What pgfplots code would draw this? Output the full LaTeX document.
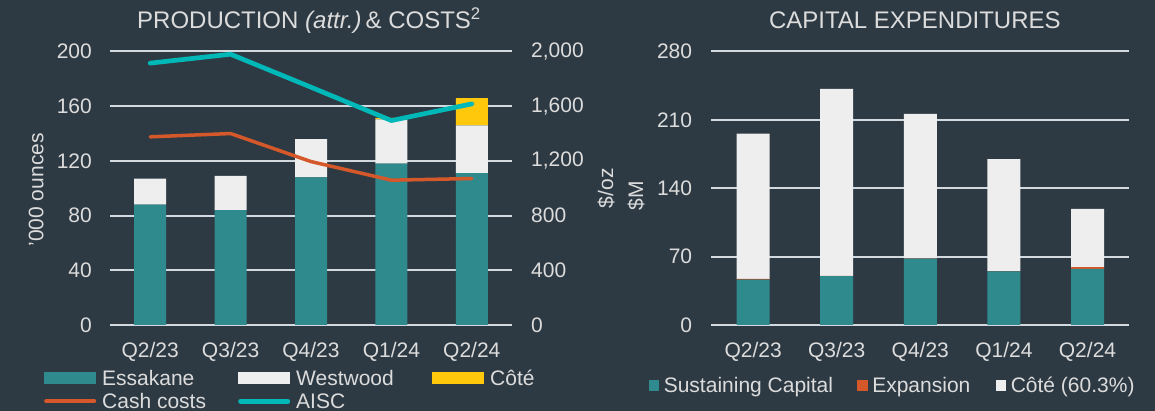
\documentclass[border=0pt]{standalone}
\usepackage{pgfplots}
\pgfplotsset{compat=1.18}
\usepackage{fontspec}
\setmainfont{Liberation Sans}

\definecolor{bgcol}{HTML}{2E3A43}
\definecolor{txtcol}{HTML}{DCDCDC}
\definecolor{gridcol}{HTML}{D2DAE0}
\definecolor{essc}{HTML}{2E8A8C}
\definecolor{westc}{HTML}{EEEEEE}
\definecolor{cotec}{HTML}{FFC80B}
\definecolor{cashc}{HTML}{D4582A}
\definecolor{aiscc}{HTML}{00B8B8}

\newcommand{\fs}{\fontsize{21bp}{24bp}\selectfont}

\pgfplotsset{
  mybase/.style={
    anchor=south west, scale only axis,
    xmin=-0.5, xmax=4.5,
    xtick={0,1,2,3,4},
    xticklabels={Q2/23,Q3/23,Q4/23,Q1/24,Q2/24},
    tick style={draw=none},
    axis line style={draw=none},
    /pgf/number format/assume math mode=true,
    /pgf/number format/1000 sep={,},
    tick label style={font=\fs, text=txtcol},
    xticklabel style={inner sep=0pt, yshift=-17bp},
    title style={font=\fontsize{24bp}{27bp}\selectfont, text=txtcol, anchor=center},
  },
  barleg/.style={legend image code/.code={\fill[#1] (0bp,-6bp) rectangle (52bp,6bp);}},
  sqleg/.style={legend image code/.code={\fill[#1] (0bp,-5.5bp) rectangle (10.5bp,5bp);}},
}

\begin{document}
\begin{tikzpicture}
\fill[bgcol] (0,0) rectangle (1155bp,411bp);
\useasboundingbox (0,0) rectangle (1155bp,411bp);

% production bars
\begin{axis}[mybase,
  at={(110bp,86bp)}, width=402bp, height=273.5bp,
  ymin=0, ymax=200, ytick={0,40,...,200},
  ymajorgrids, grid style={gridcol, line width=2bp},
  ybar stacked, bar width=32bp,
  yticklabel style={inner sep=0pt, xshift=-18bp},
  ylabel={'000 ounces},
  every axis y label/.style={at={(axis description cs:-0.184,0.494)}, anchor=center, rotate=90, font=\fs, text=txtcol},
  title={PRODUCTION \textit{(attr.)}\,\& COSTS\textsuperscript{2}},
  title style={at={(axis description cs:0.495,1)}, yshift=25bp},
  legend columns=3, legend cell align=left,
  legend style={at={(axis description cs:-0.1642,-0.1645)}, anchor=north west,
    draw=none, fill=none, inner sep=0pt, column sep=0pt, row sep=8.5bp,
    text=txtcol, font=\fs, nodes={inner sep=0pt, text height=15bp, text depth=0bp}},
]
\addplot[fill=essc, draw=none, barleg=essc] coordinates {(0,88) (1,84) (2,108) (3,118) (4,111)};
\addlegendentry{\makebox[142bp][l]{\hspace{6bp}Essakane}}
\addplot[fill=westc, draw=none, barleg=westc] coordinates {(0,19) (1,25) (2,28) (3,32.3) (4,34.9)};
\addlegendentry{\makebox[142bp][l]{\hspace{6bp}Westwood}}
\addplot[fill=cotec, draw=none, barleg=cotec] coordinates {(0,0) (1,0) (2,0) (3,1.2) (4,20)};
\addlegendentry{\hspace{6bp}Côté}
\addlegendimage{legend image code/.code={\draw[cashc, line width=3.5bp, line cap=round] (1.75bp,0bp) -- (50.25bp,0bp);}}
\addlegendentry{\makebox[142bp][l]{\hspace{6bp}Cash costs}}
\addlegendimage{legend image code/.code={\draw[aiscc, line width=4.7bp, line cap=round] (2.35bp,0bp) -- (49.65bp,0bp);}}
\addlegendentry{\makebox[142bp][l]{\hspace{6bp}AISC}}
\end{axis}

% costs lines
\begin{axis}[mybase,
  at={(110bp,86bp)}, width=402bp, height=273.5bp,
  ymin=0, ymax=2000, ytick={0,400,...,2000},
  axis y line*=right, hide x axis,
  yticklabel style={inner sep=0pt, anchor=west, xshift=19bp},
  ylabel={\$/oz},
  every axis y label/.style={at={(axis description cs:1.234,0.5)}, anchor=center, rotate=90, font=\fs, text=txtcol},
]
\addplot[cashc, line width=3.5bp, line cap=round, line join=round] coordinates {(0,1376) (1,1400) (2,1195) (3,1059) (4,1071)};
\addplot[aiscc, line width=4.7bp, line cap=round, line join=round] coordinates {(0,1915) (1,1980) (2,1739) (3,1495) (4,1617)};
\end{axis}

% capital expenditures
\begin{axis}[mybase,
  at={(711.3bp,86bp)}, width=418bp, height=273.5bp,
  ymin=0, ymax=280, ytick={0,70,...,280},
  ymajorgrids, grid style={gridcol, line width=2bp},
  ybar stacked, bar width=33bp,
  yticklabel style={inner sep=0pt, xshift=-19bp},
  ylabel={\$M},
  every axis y label/.style={at={(axis description cs:-0.180,0.472)}, anchor=center, rotate=90, font=\fs, text=txtcol},
  title={CAPITAL EXPENDITURES},
  title style={at={(axis description cs:0.487,1)}, yshift=25bp},
  legend columns=3, legend cell align=left,
  legend style={at={(axis description cs:-0.150,-0.192)}, anchor=north west,
    draw=none, fill=none, inner sep=0pt, column sep=0pt,
    text=txtcol, font=\fs, nodes={inner sep=0pt, text height=15bp, text depth=0bp}},
]
\addplot[fill=essc, draw=none, sqleg=essc] coordinates {(0,46.5) (1,50) (2,68) (3,55) (4,57.5)};
\addlegendentry{\makebox[198bp][l]{\hspace{4.5bp}Sustaining Capital}}
\addplot[fill=cashc, draw=none, sqleg=cashc] coordinates {(0,0.6) (1,0.3) (2,0.3) (3,0.2) (4,1.7)};
\addlegendentry{\makebox[128bp][l]{\hspace{4.5bp}Expansion}}
\addplot[fill=westc, draw=none, sqleg=westc] coordinates {(0,148.7) (1,191.5) (2,147.9) (3,114.6) (4,59.8)};
\addlegendentry{\hspace{4.5bp}Côté (60.3\%)}
\end{axis}
\end{tikzpicture}
\end{document}
